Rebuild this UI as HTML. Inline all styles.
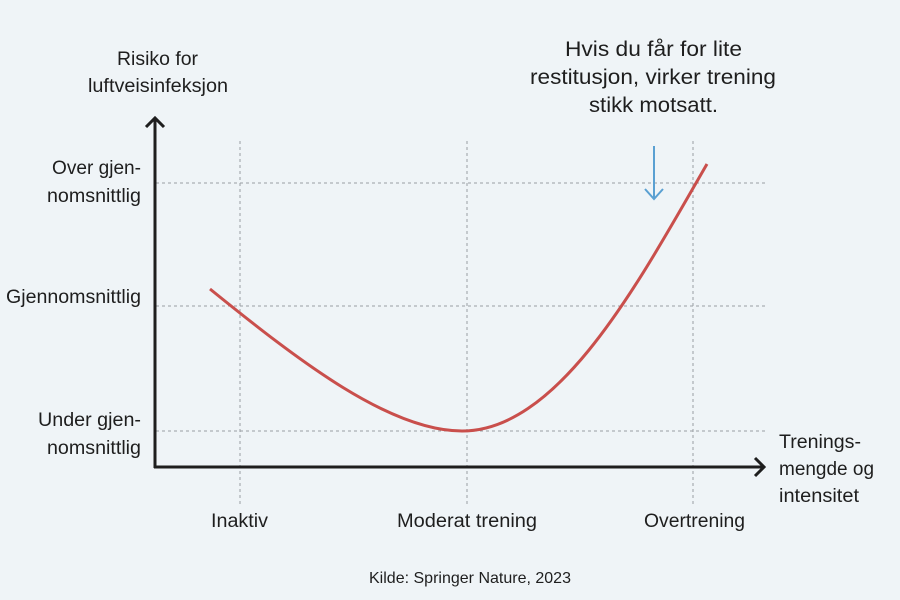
<!DOCTYPE html>
<html><head><meta charset="utf-8"><style>
html,body{margin:0;padding:0;background:#eff4f7;}
svg{display:block}
text{font-family:"Liberation Sans Narrow","Liberation Sans",sans-serif;fill:#1e1e1e;font-size:19px}
</style></head><body>
<svg width="900" height="600" viewBox="0 0 900 600">
<rect width="900" height="600" fill="#eff4f7"/>
<g stroke="#9a9ea3" stroke-width="1" stroke-dasharray="3,3">
<line x1="240" y1="141" x2="240" y2="505"/>
<line x1="467" y1="141" x2="467" y2="505"/>
<line x1="693" y1="141" x2="693" y2="505"/>
<line x1="156" y1="183" x2="765" y2="183"/>
<line x1="156" y1="306" x2="765" y2="306"/>
<line x1="156" y1="431" x2="765" y2="431"/>
</g>
<g stroke="#1e1e1e" stroke-width="3" fill="none">
<line x1="155" y1="118" x2="155" y2="468"/>
<line x1="154" y1="467" x2="764" y2="467"/>
<polyline points="146,127 155,118 164,127"/>
<polyline points="755,458 764,467 755,476"/>
</g>
<path d="M210,289 C300,362 390,431 462,431 C560,431 640,280 707,164" stroke="#c94f4c" stroke-width="3" fill="none"/>
<g stroke="#5aa0d2" stroke-width="2" fill="none">
<line x1="654" y1="146" x2="654" y2="199"/>
<polyline points="645,189 654,199 663,189"/>
</g>
<text x="117" y="65" textLength="81" lengthAdjust="spacingAndGlyphs">Risiko for</text>
<text x="88" y="92" textLength="140" lengthAdjust="spacingAndGlyphs">luftveisinfeksjon</text>
<text x="52" y="174" textLength="89" lengthAdjust="spacingAndGlyphs">Over gjen-</text>
<text x="47" y="202" textLength="94" lengthAdjust="spacingAndGlyphs">nomsnittlig</text>
<text x="6" y="303" textLength="135" lengthAdjust="spacingAndGlyphs">Gjennomsnittlig</text>
<text x="38" y="426" textLength="103" lengthAdjust="spacingAndGlyphs">Under gjen-</text>
<text x="47" y="454" textLength="94" lengthAdjust="spacingAndGlyphs">nomsnittlig</text>
<text x="779" y="448" textLength="82" lengthAdjust="spacingAndGlyphs">Trenings-</text>
<text x="779" y="475" textLength="95" lengthAdjust="spacingAndGlyphs">mengde og</text>
<text x="779" y="502" textLength="80" lengthAdjust="spacingAndGlyphs">intensitet</text>
<text x="211" y="527" textLength="57" lengthAdjust="spacingAndGlyphs">Inaktiv</text>
<text x="397" y="527" textLength="140" lengthAdjust="spacingAndGlyphs">Moderat trening</text>
<text x="644" y="527" textLength="101" lengthAdjust="spacingAndGlyphs">Overtrening</text>
<text x="565" y="56" style="font-size:21px" textLength="177" lengthAdjust="spacingAndGlyphs">Hvis du får for lite</text>
<text x="530" y="84" style="font-size:21px" textLength="246" lengthAdjust="spacingAndGlyphs">restitusjon, virker trening</text>
<text x="589" y="112" style="font-size:21px" textLength="129" lengthAdjust="spacingAndGlyphs">stikk motsatt.</text>
<text x="369" y="583" style="font-size:16px" textLength="202" lengthAdjust="spacingAndGlyphs">Kilde: Springer Nature, 2023</text>
</svg>
</body></html>
